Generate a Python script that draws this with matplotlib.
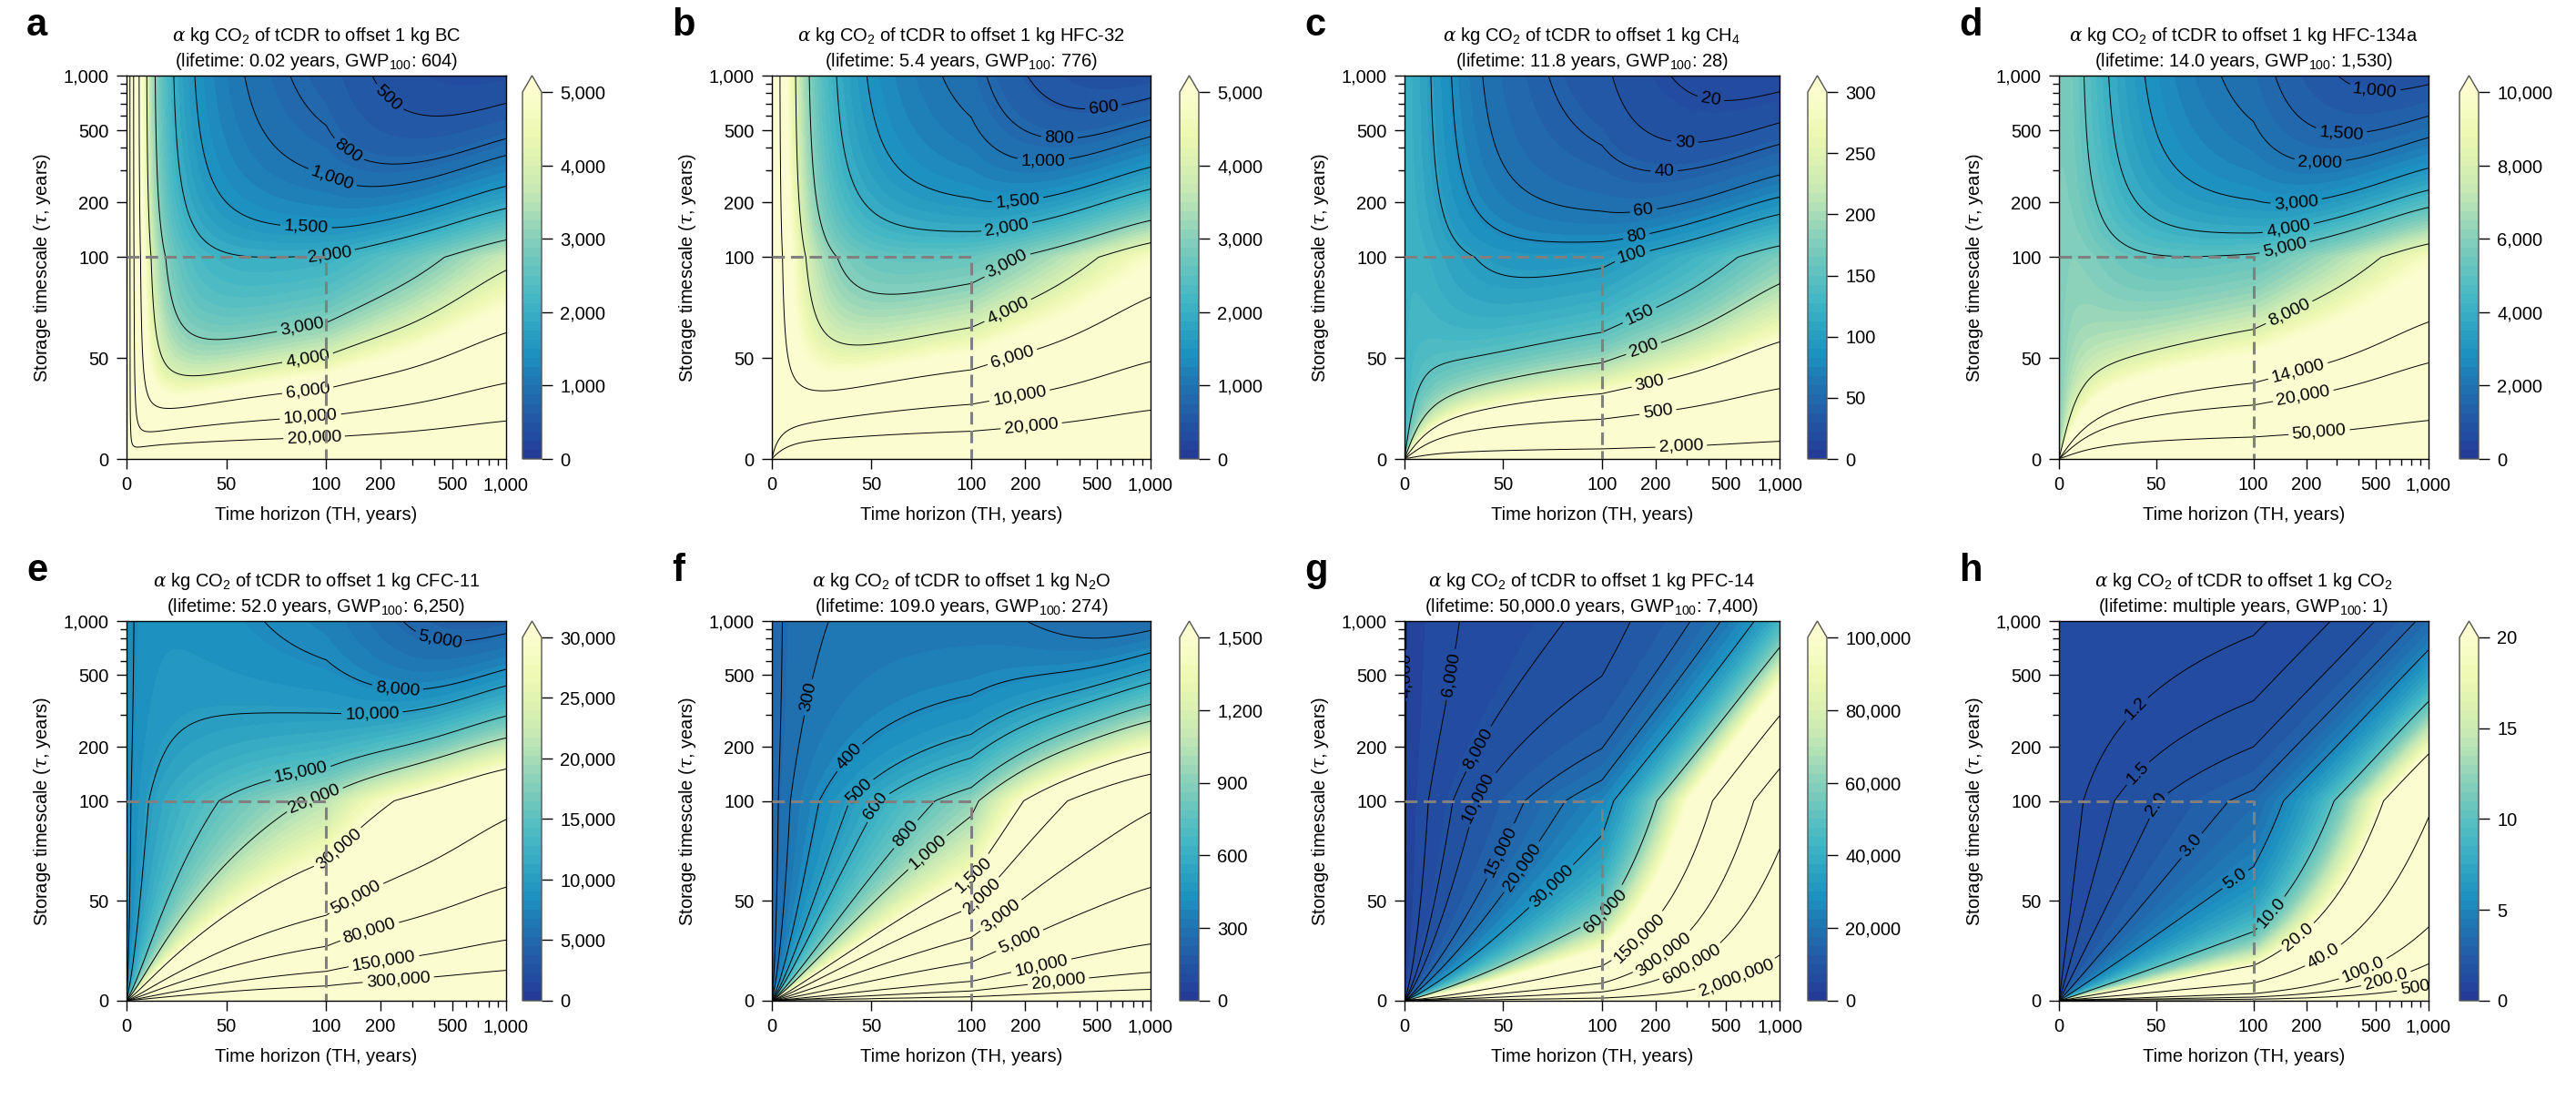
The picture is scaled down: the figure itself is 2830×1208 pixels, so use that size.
import numpy as np
import matplotlib
matplotlib.use("Agg")
import matplotlib.pyplot as plt
from matplotlib.colors import LinearSegmentedColormap
from matplotlib.ticker import FuncFormatter

plt.rcParams["font.family"] = ["Liberation Sans", "DejaVu Sans"]
plt.rcParams["mathtext.fontset"] = "custom"
plt.rcParams["mathtext.rm"] = "Liberation Sans"
plt.rcParams["mathtext.it"] = "DejaVu Serif:italic"
plt.rcParams["mathtext.bf"] = "Liberation Sans:bold"

# ---- panel data ----
letters = ["a", "b", "c", "d", "e", "f", "g", "h"]
gases = ["BC", "HFC-32", "CH$_4$", "HFC-134a", "CFC-11", "N$_2$O", "PFC-14", "CO$_2$"]
lifetime_years = [0.02, 5.4, 11.8, 14.0, 52.0, 109.0, 50000.0, None]
lifetime_text = ["0.02", "5.4", "11.8", "14.0", "52.0", "109.0", "50,000.0", "multiple"]
gwp100 = [604, 776, 28, 1530, 6250, 274, 7400, 1]
cbar_max = [5000, 5000, 300, 10000, 30000, 1500, 100000, 20]
cbar_step = [1000, 1000, 50, 2000, 5000, 300, 20000, 5]
contour_levels = [
    [500, 800, 1000, 1500, 2000, 3000, 4000, 6000, 10000, 20000],
    [600, 800, 1000, 1500, 2000, 3000, 4000, 6000, 10000, 20000],
    [20, 30, 40, 60, 80, 100, 150, 200, 300, 500, 2000],
    [1000, 1500, 2000, 3000, 4000, 5000, 8000, 14000, 20000, 50000],
    [5000, 8000, 10000, 15000, 20000, 30000, 50000, 80000, 150000, 300000],
    [250, 300, 400, 500, 600, 800, 1000, 1500, 2000, 3000, 5000, 10000, 20000, 50000],
    [4000, 6000, 8000, 10000, 15000, 20000, 30000, 60000, 150000, 300000, 600000, 2000000],
    [1.2, 1.5, 2.0, 3.0, 5.0, 10.0, 20.0, 40.0, 100.0, 200.0, 500],
]

# CO2 impulse response function (Joos et al. 2013) and storage decay factor
irf_a = [0.2173, 0.2240, 0.2824, 0.2763]
irf_tau = [394.4, 36.54, 4.304]
storage_factor = 2.8

# where the contour labels sit: (level, TH, tau)
label_spots = [
    [(500, 192, 645), (800, 120, 337), (1000, 104, 251), (1500, 90, 152), (2000, 104, 106),
     (3000, 86, 75), (4000, 90, 55), (6000, 90, 38.5), (10000, 92, 25.4), (20000, 94, 12.3)],
    [(600, 524, 975), (800, 311, 536), (1000, 250, 401), (1500, 180, 230), (2000, 156, 158),
     (3000, 148, 101), (4000, 156, 76), (6000, 168, 52), (10000, 185, 33), (20000, 216, 18)],
    [(20, 422, 895), (30, 295, 501), (40, 224, 343), (60, 170, 199), (80, 153, 144),
     (100, 145, 111), (150, 157, 74), (200, 170, 56), (300, 185, 39), (500, 206, 24),
     (2000, 279, 6.9)],
    [(1000, 500, 979), (1500, 320, 599), (2000, 241, 392), (3000, 174, 220), (4000, 155, 158),
     (5000, 148, 120), (8000, 155, 75), (14000, 178, 45), (20000, 191, 32), (50000, 236, 13.8)],
    [(5000, 437, 895), (8000, 251, 476), (10000, 179, 336), (15000, 87, 147), (20000, 94, 103),
     (30000, 114, 77), (50000, 148, 51), (80000, 174, 35), (150000, 209, 20.6),
     (300000, 251, 11.2)],
    [(300, 24, 367), (400, 40, 171), (500, 43, 115), (600, 53, 97), (800, 67, 83.5),
     (1000, 79, 73), (1500, 102, 63), (2000, 119, 51), (3000, 151, 41), (5000, 186, 30),
     (10000, 248, 17), (20000, 307, 9.5)],
    [(4000, 2.5, 498), (6000, 27, 498), (8000, 40.5, 187), (10000, 41.5, 99), (15000, 51, 74),
     (20000, 61, 66), (30000, 76, 56), (60000, 105, 45), (150000, 165, 31), (300000, 232, 21),
     (600000, 327, 17), (2000000, 569, 12)],
    [(1.2, 40, 322), (1.5, 40, 144), (2.0, 51, 98), (3.0, 69, 77), (5.0, 92, 59),
     (10.0, 128, 43.5), (20.0, 187, 30), (40.0, 259, 20.6), (100.0, 424, 15.5),
     (200.0, 575, 10.4), (500, 839, 6.1)],
]


# linear 0-100, log 100-1000
def fwd(v):
    v = np.asarray(v, dtype=float)
    return np.where(v <= 100, v / 100, 1 + 0.9 * np.log10(np.maximum(v, 100) / 100))


def inv(u):
    u = np.asarray(u, dtype=float)
    return np.where(u <= 1, u * 100, 100 * 10 ** ((np.maximum(u, 1) - 1) / 0.9))


def agwp_co2(h):
    out = irf_a[0] * h
    for a, t in zip(irf_a[1:], irf_tau):
        out = out + a * t * (1 - np.exp(-h / t))
    return out


def agwp_tcdr(h, tau):
    T = tau / storage_factor
    out = irf_a[0] * T * (1 - np.exp(-h / T))
    for a, t in zip(irf_a[1:], irf_tau):
        d = t - T
        near = np.abs(d) < 1e-6 * t
        safe = np.where(near, 1.0, d)
        term = np.where(near, h * np.exp(-h / t),
                        T * t / safe * (np.exp(-h / t) - np.exp(-h / T)))
        out = out + a * term
    return out


def fmt_h(v):
    return "500" if v >= 500 else f"{v:.1f}"


def fmt_int(v):
    return f"{v:,.0f}"


def snap_labels(ax, cs, spots):
    # move each wanted label spot onto its own contour line
    out = []
    lev_list = list(cs.levels)
    paths = cs.get_paths()
    for lev, px, py in spots:
        if lev not in lev_list:
            continue
        verts = paths[lev_list.index(lev)].vertices
        if len(verts) == 0:
            continue
        disp = ax.transData.transform(verts)
        target = ax.transData.transform((px, py))
        j = np.argmin(((disp - target) ** 2).sum(axis=1))
        out.append(tuple(verts[j]))
    return out


grid_u = np.linspace(0.0005, 1.9, 420)
TH, TAU = np.meshgrid(inv(grid_u), inv(grid_u))
benefit = agwp_tcdr(TH, TAU)

base = plt.get_cmap("YlGnBu")
cmap = LinearSegmentedColormap.from_list("ygb_r", base(np.linspace(0.86, 0.03, 256)))
cmap.set_over(cmap(1.0))

W, H = 2830, 1208
fig = plt.figure(figsize=(W / 100, H / 100), dpi=100)

ax_left = [139, 848, 1543, 2262]
ax_width = [417, 416, 412, 406]
cb_left = [574, 1296, 1986, 2702]
row_top = [83, 682]
row_height = [421, 417]

for i in range(8):
    row, col = divmod(i, 4)
    x0, w = ax_left[col], ax_width[col]
    y0, h = row_top[row], row_height[row]
    ax = fig.add_axes([x0 / W, 1 - (y0 + h) / H, w / W, h / H])
    ax.set_xscale("function", functions=(fwd, inv))
    ax.set_yscale("function", functions=(fwd, inv))
    ax.set_xlim(0, 1000)
    ax.set_ylim(0, 1000)

    life = lifetime_years[i]
    if life is None:
        impact = agwp_co2(TH)
    else:
        impact = gwp100[i] * agwp_co2(100.0) * (1 - np.exp(-TH / life)) / (1 - np.exp(-100.0 / life))
    alpha = impact / benefit

    vmax = cbar_max[i]
    cf = ax.contourf(TH, TAU, alpha, levels=np.linspace(0, vmax, 41), cmap=cmap, extend="max")
    cs = ax.contour(TH, TAU, alpha, levels=contour_levels[i], colors="k", linewidths=0.7)
    ax.set_xlim(0, 1000)
    ax.set_ylim(0, 1000)
    spots = snap_labels(ax, cs, label_spots[i])
    ax.clabel(cs, manual=spots, fmt=fmt_h if i == 7 else fmt_int,
              fontsize=14, inline=True, inline_spacing=4)

    ax.plot([0, 100, 100], [100, 100, 0], color="#808080", lw=2.2,
            ls=(0, (4.5, 2.2)), zorder=5)

    major = [0, 50, 100, 200, 500, 1000]
    minor = [300, 400, 600, 700, 800, 900]
    ticklabels = ["0", "50", "100", "200", "500", "1,000"]
    ax.set_xticks(major)
    ax.set_xticklabels(ticklabels)
    ax.set_xticks(minor, minor=True)
    ax.set_yticks(major)
    ax.set_yticklabels(ticklabels)
    ax.set_yticks(minor, minor=True)
    ax.tick_params(which="major", length=8, width=1, labelsize=14.5, pad=6)
    ax.tick_params(which="minor", length=5, width=1)
    for sp in ax.spines.values():
        sp.set_linewidth(1)

    ax.set_xlabel("Time horizon (TH, years)", fontsize=14.5, labelpad=10)
    ax.set_ylabel(r"Storage timescale ($\tau$, years)", fontsize=14.5, labelpad=8)
    title = (r"$\alpha$ kg CO$_2$ of tCDR to offset 1 kg " + gases[i] + "\n"
             + f"(lifetime: {lifetime_text[i]} years, GWP$_{{100}}$: {gwp100[i]:,})")
    ax.set_title(title, fontsize=14.5, pad=7, linespacing=1.3)

    cax = fig.add_axes([cb_left[col] / W, 1 - (y0 + h) / H, 21 / W, h / H])
    cb = fig.colorbar(cf, cax=cax, ticks=np.arange(0, vmax + cbar_step[i] / 2, cbar_step[i]),
                      extendfrac=0.045)
    cb.ax.yaxis.set_major_formatter(FuncFormatter(lambda v, _: f"{v:,.0f}"))
    cb.ax.tick_params(labelsize=14.5, length=8.5, width=1, pad=6)
    cb.outline.set_edgecolor("#555555")
    cb.outline.set_linewidth(1)

    fig.text((x0 - 110) / W, 1 - (8 + 599 * row) / H, letters[i], fontsize=30,
             fontweight="bold", va="top", ha="left")

fig.savefig("out.png", dpi=100)
